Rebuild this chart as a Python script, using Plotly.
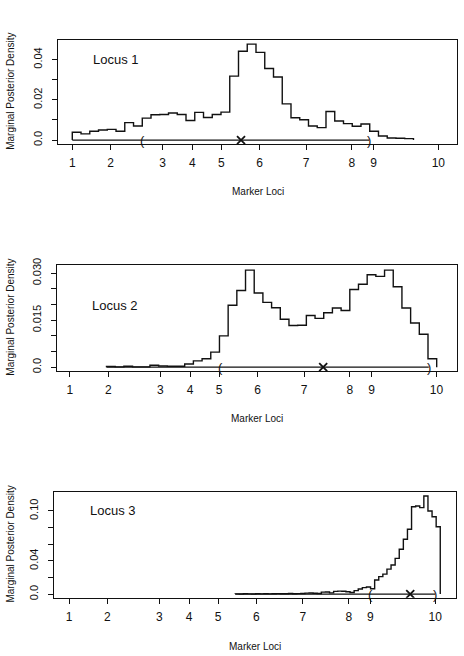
import plotly.graph_objects as go
import numpy as np

# ---------------- data ----------------
marker_pos = [0, 10.5, 24.7, 32.8, 40.7, 51.2, 63.9, 76.4, 82.3, 100]
marker_labels = ["1", "2", "3", "4", "5", "6", "7", "8", "9", "10"]

# Locus 1
p1_start = 0.0
p1_width = 2.39
p1_density = [0.0039, 0.0031, 0.0044, 0.0050, 0.0053, 0.0044, 0.0087, 0.0070, 0.0109,
              0.0126, 0.0127, 0.0135, 0.0127, 0.0097, 0.0138, 0.0112, 0.0127, 0.0139,
              0.0318, 0.0442, 0.0477, 0.0436, 0.0356, 0.0314, 0.0180, 0.0111, 0.0101,
              0.0070, 0.0062, 0.0142, 0.0095, 0.0082, 0.0069, 0.0080, 0.0044, 0.0020,
              0.0010, 0.0009, 0.0007]
p1_interval = [19.2, 81.1]
p1_estimate = 46.1

# Locus 2
p2_start = 10.0
p2_width = 2.37
p2_density = [0.0002, 0.0001, 0.0003, 0.0001, 0.0001, 0.0006, 0.0004, 0.0003, 0.0003,
              0.0010, 0.0020, 0.0027, 0.0048, 0.0100, 0.0198, 0.0245, 0.0310, 0.0237,
              0.0207, 0.0190, 0.0153, 0.0133, 0.0134, 0.0165, 0.0156, 0.0174, 0.0189,
              0.0181, 0.0248, 0.0265, 0.0295, 0.0290, 0.0310, 0.0257, 0.0189, 0.0141,
              0.0105, 0.0027]
p2_interval = [41.2, 97.9]
p2_estimate = 69.1

# Locus 3
p3_start = 45.4
p3_width = 1.12
p3_density = [0.0003, 0.0002, 0.0004, 0.0003, 0.0002, 0.0004, 0.0003, 0.0005, 0.0003,
              0.0004, 0.0006, 0.0004, 0.0005, 0.0007, 0.0005, 0.0006, 0.0008, 0.0012,
              0.0014, 0.0011, 0.0008, 0.0024, 0.0026, 0.0015, 0.0033, 0.0036, 0.0034,
              0.0028, 0.0020, 0.0042, 0.0062, 0.0078, 0.0085, 0.0065,
              0.017, 0.021, 0.024, 0.030, 0.035, 0.043, 0.054, 0.066, 0.078,
              0.105, 0.106, 0.104, 0.118, 0.100, 0.093, 0.081]
p3_interval = [82.3, 100.0]
p3_estimate = 93.2

panels = [
    dict(name="Locus 1", start=p1_start, width=p1_width, dens=p1_density,
         interval=p1_interval, est=p1_estimate,
         ytickvals=[0, 0.01, 0.02, 0.03, 0.04], yticktext=["0.0", "", "0.02", "", "0.04"],
         yrange=[-0.0020, 0.0500], xrange=[-3.9, 105.1],
         px=[58, 457], py=[33, 139], locus_xy=(116, 53), lab_y=187, lab_x=258, ytitle_y=86),
    dict(name="Locus 2", start=p2_start, width=p2_width, dens=p2_density,
         interval=p2_interval, est=p2_estimate,
         ytickvals=[0, 0.005, 0.010, 0.015, 0.020, 0.025, 0.030],
         yticktext=["0.0", "", "", "0.015", "", "", "0.030"],
         yrange=[-0.0012, 0.0325], xrange=[-3.5, 105.6],
         px=[57, 457], py=[262, 369], locus_xy=(115, 303), lab_y=417, lab_x=257, ytitle_y=315),
    dict(name="Locus 3", start=p3_start, width=p3_width, dens=p3_density,
         interval=p3_interval, est=p3_estimate,
         ytickvals=[0, 0.02, 0.04, 0.06, 0.08, 0.10],
         yticktext=["0.0", "", "0.04", "", "", "0.10"],
         yrange=[-0.0044, 0.1225], xrange=[-4.1, 105.7],
         px=[54, 456], py=[492, 599], locus_xy=(113, 511), lab_y=648, lab_x=255, ytitle_y=545),
]

W, H = 464, 656
FONT = "Liberation Sans, Arial, Helvetica, sans-serif"
INK = "#111111"

fig = go.Figure()
layout = dict(width=W, height=H, margin=dict(l=0, r=0, t=0, b=0),
              paper_bgcolor="white", plot_bgcolor="white", showlegend=False,
              font=dict(family=FONT, color=INK))
annotations = []

for i, p in enumerate(panels):
    k = "" if i == 0 else str(i + 1)
    xa, ya = "x" + k, "y" + k
    n = len(p["dens"])
    edges = p["start"] + p["width"] * np.arange(n + 1)
    xs = np.concatenate([[edges[0]], edges[:-1], [edges[-1]], [edges[-1]]])
    ys = np.concatenate([[0.0], p["dens"], [p["dens"][-1]], [0.0]])
    # baseline + interval line
    fig.add_trace(go.Scatter(x=[p["start"], p["interval"][1]], y=[0, 0], mode="lines",
                             line=dict(color=INK, width=1.2), xaxis=xa, yaxis=ya,
                             hoverinfo="skip"))
    fig.add_trace(go.Scatter(x=xs, y=ys, mode="lines", line=dict(color=INK, width=1.4, shape="hv"),
                             xaxis=xa, yaxis=ya))
    fig.add_trace(go.Scatter(x=[p["est"]], y=[0], mode="markers",
                             marker=dict(symbol="x-thin", size=8, color=INK,
                                         line=dict(color=INK, width=1.8)),
                             xaxis=xa, yaxis=ya))
    for xv, ch in zip(p["interval"], ["(", ")"]):
        annotations.append(dict(text=ch, x=xv, y=0, xref=xa, yref=ya, showarrow=False,
                                xanchor="center", yanchor="middle",
                                font=dict(family=FONT, size=13, color=INK)))

    x0, x1 = p["px"]
    yt, yb = p["py"]
    layout["xaxis" + k] = dict(
        domain=[x0 / W, x1 / W], range=p["xrange"], anchor=ya,
        tickmode="array", tickvals=marker_pos, ticktext=marker_labels,
        ticks="outside", ticklen=5, tickwidth=1, tickcolor=INK,
        showline=True, mirror=True, linecolor=INK, linewidth=1,
        showgrid=False, zeroline=False, ticklabelstandoff=3,
        tickfont=dict(family=FONT, size=12, color=INK), fixedrange=True)
    layout["yaxis" + k] = dict(
        domain=[1 - yb / H, 1 - yt / H], range=p["yrange"], anchor=xa,
        tickmode="array", tickvals=p["ytickvals"], ticktext=p["yticktext"],
        ticks="outside", ticklen=5, tickwidth=1, tickcolor=INK, tickangle=-90,
        showline=True, mirror=True, linecolor=INK, linewidth=1,
        showgrid=False, zeroline=False, ticklabelstandoff=6,
        tickfont=dict(family=FONT, size=11, color=INK), fixedrange=True)

    lx, ly = p["locus_xy"]
    annotations.append(dict(text=p["name"], x=lx / W, y=1 - ly / H, xref="paper", yref="paper",
                            showarrow=False, xanchor="center", yanchor="middle",
                            font=dict(family=FONT, size=13, color=INK)))
    annotations.append(dict(text="Marker Loci", x=p["lab_x"] / W, y=1 - p["lab_y"] / H,
                            xref="paper", yref="paper", showarrow=False,
                            xanchor="center", yanchor="middle",
                            font=dict(family=FONT, size=10, color=INK)))
    annotations.append(dict(text="Marginal Posterior Density", x=11 / W, y=1 - p["ytitle_y"] / H,
                            xref="paper", yref="paper", showarrow=False, textangle=-90,
                            xanchor="center", yanchor="middle",
                            font=dict(family=FONT, size=10, color=INK)))

layout["annotations"] = annotations
fig.update_layout(**layout)
fig.write_html("out.html")
